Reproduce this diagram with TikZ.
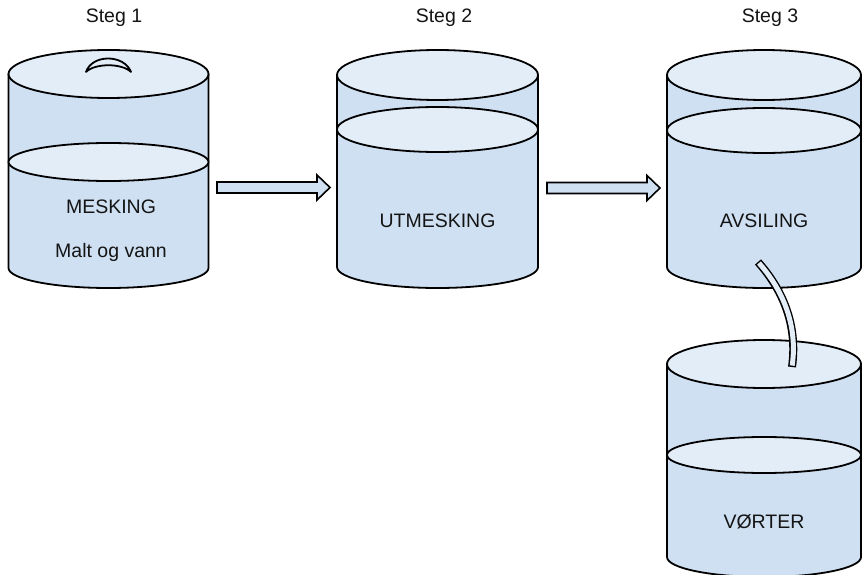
\documentclass[tikz,border=0pt]{standalone}
\usepackage{fontspec}
\setmainfont{Liberation Sans}
\usetikzlibrary{calc}

\definecolor{bodyblue}{HTML}{CFE0F2}
\definecolor{topblue}{HTML}{E3EDF8}
\definecolor{inkgray}{HTML}{141414}

\tikzset{
  outline/.style={draw=black, line width=1.8pt, line join=round},
  tankbody/.style={outline, fill=bodyblue},
  tanktop/.style={outline, fill=topblue},
  blockarrow/.style={draw=black, line width=1.6pt, line join=miter, fill=bodyblue},
  lbl/.style={text=inkgray, font=\fontsize{19.5}{22}\selectfont, inner sep=0pt, anchor=center},
}

% #1 name, #2 centre x, #3 x radius, #4 top y, #5 bottom y, #6 top y radius, #7 bottom y radius
\newcommand\drawtank[7]{%
  \coordinate (#1) at (#2,#4);
  \filldraw[tankbody] (#2-#3,#4) -- (#2-#3,#5)
     arc[start angle=180, end angle=360, x radius=#3pt, y radius=#7pt]
     -- (#2+#3,#4) -- cycle;
  \filldraw[tanktop] (#1) ellipse[x radius=#3pt, y radius=#6pt];
}
% liquid surface: #1 name, #2 centre x, #3 y, #4 x radius, #5 y radius
\newcommand\drawlevel[5]{%
  \coordinate (#1) at (#2,#3);
  \filldraw[tanktop] (#1) ellipse[x radius=#4pt, y radius=#5pt];
}
% block arrow starting at #1, shaft length #2
\newcommand\drawblockarrow[2]{%
  \draw[blockarrow] ($(#1)+(0,5.5)$) -- ++(#2,0) -- ++(0,7) -- ++(13,-12.5)
     -- ++(-13,-12.5) -- ++(0,7) -- ++(-#2,0) -- cycle;
}

\begin{document}
\begin{tikzpicture}[x=1pt, y=1pt]
\useasboundingbox (0,0) rectangle (862,574);

% step headings
\node[lbl] (s1) at (114,556) {Steg 1};
\node[lbl] (s2) at (444,556) {Steg 2};
\node[lbl] (s3) at (770,556) {Steg 3};

% tank 1: mashing, with lid handle
\drawtank{tank1}{108.5}{100}{500}{306}{24}{20}
\drawlevel{lev1}{108.5}{412}{100}{19}
\filldraw[tanktop] (86,502) .. controls (92,520) and (124,520) .. (131,502)
   .. controls (122,511) and (95,511) .. (86,502) -- cycle;
\node[lbl] (m1) at (111,367) {MESKING};
\node[lbl] (m2) at (111,322) {Malt og vann};

% tank 2
\drawtank{tank2}{437.5}{100.5}{499}{307}{25}{21}
\drawlevel{lev2}{437.5}{444.5}{100.5}{22.5}
\node[lbl] (u1) at (437.5,353) {UTMESKING};

% tank 3
\drawtank{tank3}{764}{97}{499}{307}{25}{21}
\drawlevel{lev3}{764}{443.5}{97}{22.5}
\node[lbl] (a1) at (764,353) {AVSILING};

% tank 4
\drawtank{tank4}{764}{97}{210}{17}{24}{20}
\drawlevel{lev4}{764}{119}{97}{18}
\node[lbl] (v1) at (764,52) {VØRTER};

% arrows between the steps
\coordinate (arr1) at (217,386.5);
\coordinate (arr2) at (547,386);
\drawblockarrow{arr1}{100}
\drawblockarrow{arr2}{100}

% hose from tank 3 down into tank 4
\coordinate (hoseA) at (758,312);
\coordinate (hoseB) at (792,207);
\draw[black, line width=8pt] (hoseA) .. controls (782,285) and (798,250) .. (hoseB);
\draw[topblue, line width=5pt, shorten <=1.4pt, shorten >=1.4pt]
   (hoseA) .. controls (782,285) and (798,250) .. (hoseB);
\end{tikzpicture}
\end{document}
